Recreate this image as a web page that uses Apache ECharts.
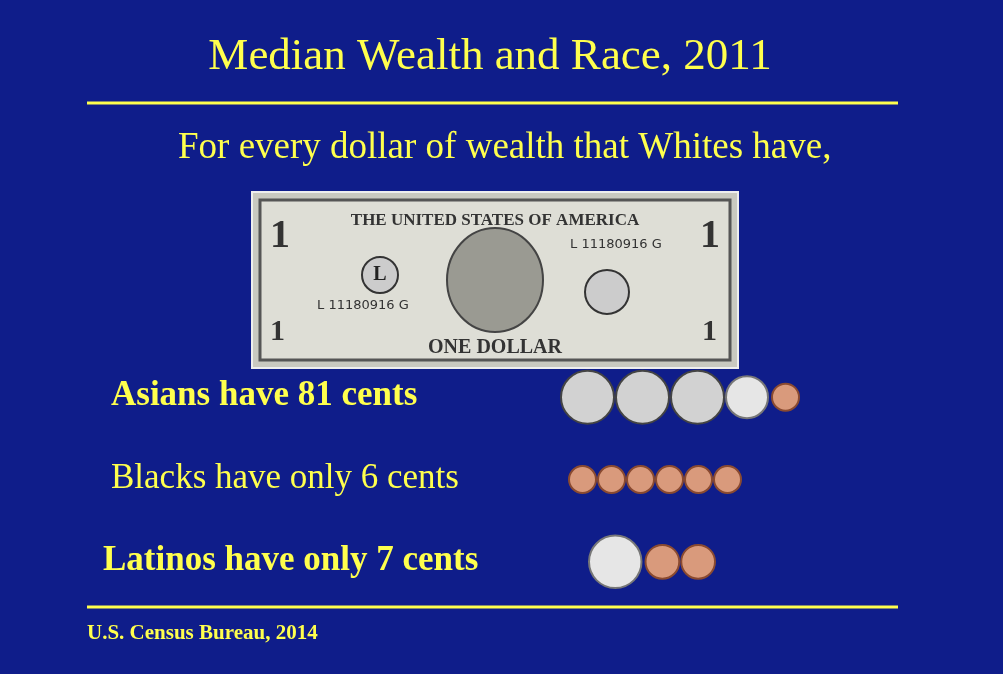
<!DOCTYPE html>
<html><head><meta charset="utf-8">
<script src="https://cdn.jsdelivr.net/npm/echarts@6/dist/echarts.min.js"></script>
<style>html,body{margin:0;padding:0;background:#0f1d8a}#c{width:1003px;height:674px}</style>
</head><body><div id="c"></div>
<script>
const groups = ['Asians', 'Blacks', 'Latinos'];
const labels = ['Asians have 81 cents', 'Blacks have only 6 cents', 'Latinos have only 7 cents'];
const cents = [81, 6, 7];
const coinsAsians = ['quarter', 'quarter', 'quarter', 'nickel', 'penny'];
const coinsBlacks = ['penny', 'penny', 'penny', 'penny', 'penny', 'penny'];
const coinsLatinos = ['nickel', 'penny', 'penny'];
const coinRows = [coinsAsians, coinsBlacks, coinsLatinos];
const rowStart = [561, 569, 589];
const rowScale = [1, 1, 1.25];
const coinSize = {quarter: 53, nickel: 42, penny: 27};
const coinGap = {quarter: 2, nickel: 4, penny: 2};
const coinColor = {quarter: '#d2d2d2', nickel: '#e6e6e6', penny: '#d99a7c'};
const coinBorder = {quarter: '#444', nickel: '#777', penny: '#8a4a30'};

const data = [];
coinRows.forEach((row, r) => {
  let x = rowStart[r];
  row.forEach(t => {
    const d = coinSize[t] * rowScale[r];
    data.push({value: [x + d / 2, groups[r]], symbolSize: d,
      itemStyle: {color: coinColor[t], borderColor: coinBorder[t], borderWidth: 2, opacity: 1}});
    x += d + coinGap[t];
  });
});

const yellow = '#ffff4d';
const serif = '"Liberation Serif","DejaVu Serif",serif';
const chart = echarts.init(document.getElementById('c'));
chart.setOption({
  backgroundColor: '#0f1d8a',
  animation: false,
  grid: {left: 0, right: 0, top: 356, bottom: 71},
  xAxis: {type: 'value', min: 0, max: 1003, show: false},
  yAxis: {type: 'category', data: groups, inverse: true, show: false},
  series: [{type: 'scatter', data: data, symbol: 'circle', z: 5, itemStyle: {opacity: 1}}],
  graphic: [
    {type: 'text', x: 490, y: 35, style: {text: 'Median Wealth and Race, 2011', fill: yellow, font: '45px ' + serif, align: 'center'}},
    {type: 'line', shape: {x1: 87, y1: 103, x2: 898, y2: 103}, style: {stroke: yellow, lineWidth: 3}},
    {type: 'text', x: 178, y: 130, style: {text: 'For every dollar of wealth that Whites have,', fill: yellow, font: '37px ' + serif}},
    {type: 'group', x: 252, y: 192, children: [
      {type: 'rect', shape: {x: 0, y: 0, width: 486, height: 176}, style: {fill: '#c9c9c0', stroke: '#eee', lineWidth: 2}},
      {type: 'rect', shape: {x: 8, y: 8, width: 470, height: 160}, style: {fill: '#deded6', stroke: '#555', lineWidth: 3}},
      {type: 'ellipse', shape: {cx: 243, cy: 88, rx: 48, ry: 52}, style: {fill: '#9a9a92', stroke: '#444', lineWidth: 2}},
      {type: 'text', x: 243, y: 20, style: {text: 'THE UNITED STATES OF AMERICA', fill: '#333', font: 'bold 17px ' + serif, align: 'center'}},
      {type: 'text', x: 243, y: 146, style: {text: 'ONE DOLLAR', fill: '#333', font: 'bold 20px ' + serif, align: 'center'}},
      {type: 'circle', shape: {cx: 128, cy: 83, r: 18}, style: {fill: '#ccc', stroke: '#333', lineWidth: 2}},
      {type: 'text', x: 128, y: 73, style: {text: 'L', fill: '#222', font: 'bold 20px ' + serif, align: 'center'}},
      {type: 'circle', shape: {cx: 355, cy: 100, r: 22}, style: {fill: '#ccc', stroke: '#333', lineWidth: 2}},
      {type: 'text', x: 65, y: 107, style: {text: 'L 11180916 G', fill: '#333', font: '13px "DejaVu Sans"'}},
      {type: 'text', x: 318, y: 46, style: {text: 'L 11180916 G', fill: '#333', font: '13px "DejaVu Sans"'}},
      {type: 'text', x: 18, y: 25, style: {text: '1', fill: '#333', font: 'bold 40px ' + serif}},
      {type: 'text', x: 448, y: 25, style: {text: '1', fill: '#333', font: 'bold 40px ' + serif}},
      {type: 'text', x: 18, y: 125, style: {text: '1', fill: '#333', font: 'bold 30px ' + serif}},
      {type: 'text', x: 450, y: 125, style: {text: '1', fill: '#333', font: 'bold 30px ' + serif}}
    ]},
    {type: 'text', x: 111, y: 378, style: {text: labels[0], fill: yellow, font: 'bold 35px ' + serif}},
    {type: 'text', x: 111, y: 461, style: {text: labels[1], fill: yellow, font: '35px ' + serif}},
    {type: 'text', x: 103, y: 543, style: {text: labels[2], fill: yellow, font: 'bold 35px ' + serif}},
    {type: 'line', shape: {x1: 87, y1: 607, x2: 898, y2: 607}, style: {stroke: yellow, lineWidth: 3}},
    {type: 'text', x: 87, y: 623, style: {text: 'U.S. Census Bureau, 2014', fill: yellow, font: 'bold 21px ' + serif}}
  ]
});
</script></body></html>
